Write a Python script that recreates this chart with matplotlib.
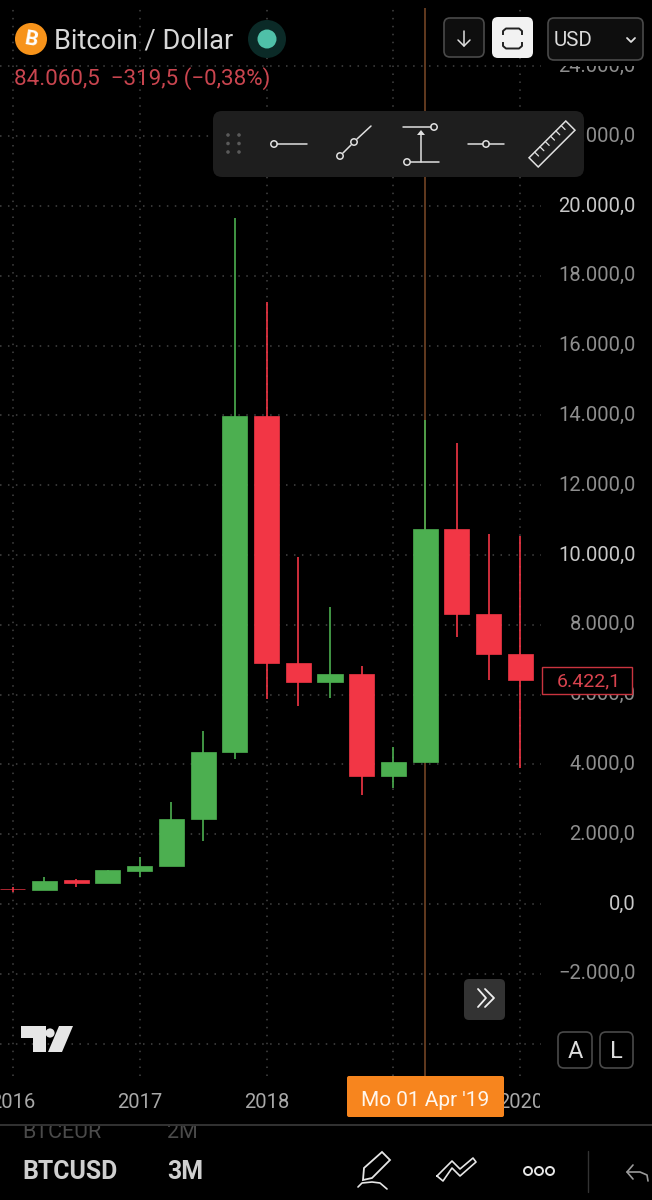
import matplotlib
matplotlib.use("Agg")
import matplotlib.pyplot as plt
import numpy as np
from matplotlib.patches import Circle, FancyBboxPatch, Polygon, Rectangle
from matplotlib.transforms import Bbox

plt.rcParams['font.family'] = ['Roboto', 'DejaVu Sans']

# -------- data (3M candles) --------

quarters = ["2016-Q1", "2016-Q2", "2016-Q3", "2016-Q4",
            "2017-Q1", "2017-Q2", "2017-Q3", "2017-Q4",
            "2018-Q1", "2018-Q2", "2018-Q3", "2018-Q4",
            "2019-Q1", "2019-Q2", "2019-Q3", "2019-Q4",
            "2020-Q1"]
opens = [430, 400, 680, 600, 953, 1077, 2444, 4346, 13981, 6905, 6360, 6590,
         3667, 4068, 10744, 8308, 7162]
closes = [416, 668, 590, 965, 1088, 2444, 4346, 13981, 6905, 6360, 6590, 3667,
          4068, 10744, 8308, 7162, 6422.1]
highs = [495, 780, 716, 983, 1337, 2931, 4956, 19654, 17247, 9941, 8509, 6819,
         4498, 13866, 13208, 10600, 10543]
lows = [352, 400, 478, 600, 762, 1077, 1813, 4154, 5873, 5673, 5900, 3123,
        3323, 4068, 7650, 6418, 3896]

year_labels = ["2016", "2017", "2018", "2019", "2020"]
year_positions = [0, 4, 8, 12, 16]
price_ticks = list(range(-4000, 26000, 2000))
bright_ticks = [0, 10000, 20000]
last_price = closes[-1]
cursor_pos = quarters.index("2019-Q2")

GREEN = "#4CAF50"
RED = "#F23645"
W, H = 652, 1200

fig = plt.figure(figsize=(W / 100, H / 100), dpi=100, facecolor="black")


def fmt_price(v, decimals=1):
    s = f"{abs(v):,.{decimals}f}".replace(",", "#").replace(".", ",").replace("#", ".")
    return ("\u2212" if v < 0 else "") + s


# -------- chart --------

left, right, top, bottom = 0, 541, 8, 1076
ax = fig.add_axes([left / W, 1 - bottom / H, (right - left) / W, (bottom - top) / H])
ax.set_facecolor("black")

step_x = 31.73
x0_px = 12.7
ax.set_xlim((left - x0_px) / step_x, (right - x0_px) / step_x)
px_per_unit = 69.8 / 2000
y0_px = 904
ax.set_ylim((y0_px - bottom) / px_per_unit, (y0_px - top) / px_per_unit)

x = np.arange(len(quarters))
opens_a, closes_a = np.array(opens, float), np.array(closes, float)
colors = [GREEN if c >= o else RED for o, c in zip(opens_a, closes_a)]

ax.vlines(x, lows, highs, colors=colors, linewidth=1.2, zorder=3)
ax.bar(x, np.abs(closes_a - opens_a), bottom=np.minimum(opens_a, closes_a), width=0.79,
       color=colors, linewidth=0.5, edgecolor=colors, zorder=4)
ax.axvline(cursor_pos, color="#7d4a28", linewidth=1.1, zorder=2)

ax.set_xticks(year_positions)
ax.set_xticklabels(year_labels)
ax.set_yticks(price_ticks)
# the -4.000,0 label sits behind the A / L buttons in the app
ax.set_yticklabels(["" if v == -4000 else fmt_price(v) for v in price_ticks])
ax.yaxis.tick_right()
ax.tick_params(axis="both", length=0, labelsize=14.5, labelcolor="#8e8e8e")
ax.tick_params(axis="x", pad=12)
ax.tick_params(axis="y", pad=68)
ax.grid(True, color="#444444", linewidth=1.1, linestyle=(0, (1, 4.2)), zorder=1)
ax.set_axisbelow(True)
for s in ax.spines.values():
    s.set_visible(False)

for lab, v in zip(ax.get_yticklabels(), price_ticks):
    lab.set_ha("right")
    lab.set_va("center")
    if v in bright_ticks:
        lab.set_color("#c8c8c8")
    # top label is cut by the header strip
    lab.set_clip_box(Bbox([[0, 0], [W, H - 66]]))
    lab.set_clip_on(True)
for lab in ax.get_xticklabels():
    lab.set_color("#a8a8a8")
    lab.set_clip_box(Bbox([[0, 0], [540, H]]))
    lab.set_clip_on(True)

# -------- app chrome, in screen pixels --------

ui = fig.add_axes([0, 0, 1, 1], facecolor="none")
ui.set_xlim(0, W)
ui.set_ylim(H, 0)
ui.axis("off")


def rbox(x1, y1, x2, y2, r=5, fc="black", ec="none", lw=1.2, z=5):
    p = FancyBboxPatch((x1 + r, y1 + r), x2 - x1 - 2 * r, y2 - y1 - 2 * r,
                       boxstyle=f"round,pad={r},rounding_size={r}",
                       fc=fc, ec=ec, lw=lw, zorder=z)
    ui.add_patch(p)


def seg(xs, ys, color="#e0e0e0", lw=1.1, z=7):
    ui.plot(xs, ys, color=color, lw=lw, zorder=z, solid_capstyle="round")


def ring(cx, cy, r=3.2, color="#e0e0e0", z=8, fc="none", lw=1.1):
    ui.add_patch(Circle((cx, cy), r, fc=fc, ec=color, lw=lw, zorder=z))


# header
ui.add_patch(Circle((31, 39), 16, fc="#F7931A", ec="none", zorder=6))
ui.text(31, 40, "B", color="white", fontsize=15, fontweight="bold", ha="center",
        va="center", rotation=-10, zorder=7)
ui.text(54, 41, "Bitcoin / Dollar", color="#d8d8d8", fontsize=19.6, ha="left",
        va="center", zorder=7)
ui.add_patch(Circle((267, 39), 19, fc="#0b2a27", ec="none", zorder=6))
ui.add_patch(Circle((267, 39), 9.5, fc="#4fc0a8", ec="none", zorder=7))
ui.text(14, 79, "84.060,5  \u2212319,5 (\u22120,38%)", color="#c9454f", fontsize=16.1,
        ha="left", va="center", zorder=7)

# top buttons
rbox(444, 18, 484, 57, r=6, fc="#0e0e0e", ec="#4a4a4a")
seg([464, 464], [31, 46], lw=1.1)
seg([458, 464, 470], [40, 46, 40], lw=1.1)
rbox(492, 17, 533, 58, r=6, fc="#f2f2f2")
ui.plot([503, 503, 506, 519, 522, 522], [34, 31, 28.5, 28.5, 31, 34], color="#222", lw=1.4, zorder=7)
ui.plot([503, 503, 506, 519, 522, 522], [43, 46, 48.5, 48.5, 46, 43], color="#222", lw=1.4, zorder=7)
rbox(548, 18, 643, 60, r=6, fc="#0e0e0e", ec="#4a4a4a")
ui.text(554, 40, "USD", color="#dcdcdc", fontsize=14.8, ha="left", va="center", zorder=7)
seg([627, 631, 635], [38, 42, 38], lw=1.3)

# drawing toolbar
rbox(213, 111, 584, 177, r=9, fc="#1e1e1e", z=5)
for dx in (228, 239):
    for dy in (135, 143.5, 152):
        ui.add_patch(Circle((dx, dy), 1.8, fc="#5a5a5a", ec="none", zorder=7))
seg([277, 307], [144, 144])
ring(274, 144)
seg([343, 351], [153, 145])
seg([357, 371], [139, 126])
ring(340, 156)
ring(354, 142)
seg([403, 431], [127, 127])
ring(434, 127)
seg([411, 439], [162, 162])
ring(407, 162)
seg([421, 421], [162, 133])
ui.add_patch(Polygon([[417, 135], [425, 135], [421, 130]], fc="#e0e0e0", ec="none", zorder=8))
seg([468, 483], [144, 144])
seg([489, 504], [144, 144])
ring(486, 144)
ruler = np.array([[-26, -6.5], [26, -6.5], [26, 6.5], [-26, 6.5]])
ang = np.radians(-45)
rot = np.array([[np.cos(ang), -np.sin(ang)], [np.sin(ang), np.cos(ang)]])
ui.add_patch(Polygon(ruler @ rot.T + [552, 144], fc="none", ec="#e0e0e0", lw=1.1, zorder=8))
for t in np.arange(-18, 20, 7.5):
    pts = np.array([[t, -6.5], [t, -1]]) @ rot.T + [552, 144]
    seg(pts[:, 0], pts[:, 1], lw=0.9)

# last price tag
ui.add_patch(Rectangle((542, 667), 90, 27, fc="black", ec="#c9343f", lw=1.0, zorder=6))
ui.text(589, 681, fmt_price(last_price), color="#d8434e", fontsize=14, ha="center",
        va="center", zorder=7)

# scroll + auto/log buttons
rbox(464, 979, 505, 1020, r=5, fc="#333333")
seg([478, 486, 478], [989, 998, 1007], color="#f0f0f0", lw=1.3)
seg([485, 494, 485], [989, 998, 1007], color="#f0f0f0", lw=1.3)
rbox(558, 1032, 592, 1068, r=6, ec="#4a4a4a")
rbox(600, 1032, 633, 1068, r=6, ec="#4a4a4a")
ui.text(575, 1051, "A", color="#dcdcdc", fontsize=17, ha="center", va="center", zorder=7)
ui.text(616.5, 1051, "L", color="#dcdcdc", fontsize=17, ha="center", va="center", zorder=7)

# tradingview mark
ui.add_patch(Polygon([[21, 1026], [46, 1026], [46, 1052], [33, 1052], [33, 1038], [21, 1038]],
                     fc="#e6e6e6", ec="none", zorder=7))
ui.add_patch(Circle((50, 1033), 4.6, fc="#e6e6e6", ec="none", zorder=7))
ui.add_patch(Polygon([[59, 1026], [73, 1026], [62, 1052], [48, 1052]], fc="#e6e6e6",
                     ec="none", zorder=7))

# cursor date tag
rbox(347, 1076, 504, 1117, r=2, fc="#F7851E", z=6)
ui.text(425.5, 1101, "Mo 01 Apr '19", color="#fff6ec", fontsize=15, ha="center",
        va="center", zorder=7)

# bottom bar
seg([0, W], [1125, 1125], color="#333333", lw=1.4, z=6)
clip_t = ui.text(22, 1132, "BTCEUR", color="#4a4a4a", fontsize=15.5, ha="left", va="center", zorder=5)
clip_m = ui.text(167, 1132, "2M", color="#4a4a4a", fontsize=15.5, ha="left", va="center", zorder=5)
for t in (clip_t, clip_m):
    t.set_clip_box(Bbox([[0, 0], [W, H - 1126]]))
    t.set_clip_on(True)
ui.text(22, 1172, "BTCUSD", color="#cfcfcf", fontsize=17.9, fontweight="bold", ha="left",
        va="center", zorder=7)
ui.text(167, 1172, "3M", color="#cfcfcf", fontsize=17.9, fontweight="bold", ha="left",
        va="center", zorder=7)

# pencil
ui.add_patch(Polygon([[363, 1180], [364, 1168], [382, 1152], [390, 1160], [372, 1178]],
                     fc="none", ec="#e6e6e6", lw=1.3, zorder=7))
seg([358, 362, 372, 380, 387], [1187, 1183, 1182, 1183, 1189], color="#e6e6e6", lw=1.2)
# zigzag
seg([437, 452, 460, 473, 476, 460, 452, 443, 437],
    [1176, 1161, 1169, 1158, 1162, 1176, 1168, 1181, 1176],
    color="#e6e6e6", lw=1.2)
# more
for cx in (528, 539, 550):
    ring(cx, 1171, r=4, color="#e6e6e6", lw=1.4)
seg([588, 588], [1151, 1192], color="#333333", lw=1.0)
# undo
seg([627, 640, 647, 648], [1172, 1172, 1175, 1181], color="#9a9a9a", lw=1.2)
seg([633, 627, 633], [1165, 1172, 1179], color="#9a9a9a", lw=1.2)

fig.savefig("out.png", dpi=100, facecolor="black")
